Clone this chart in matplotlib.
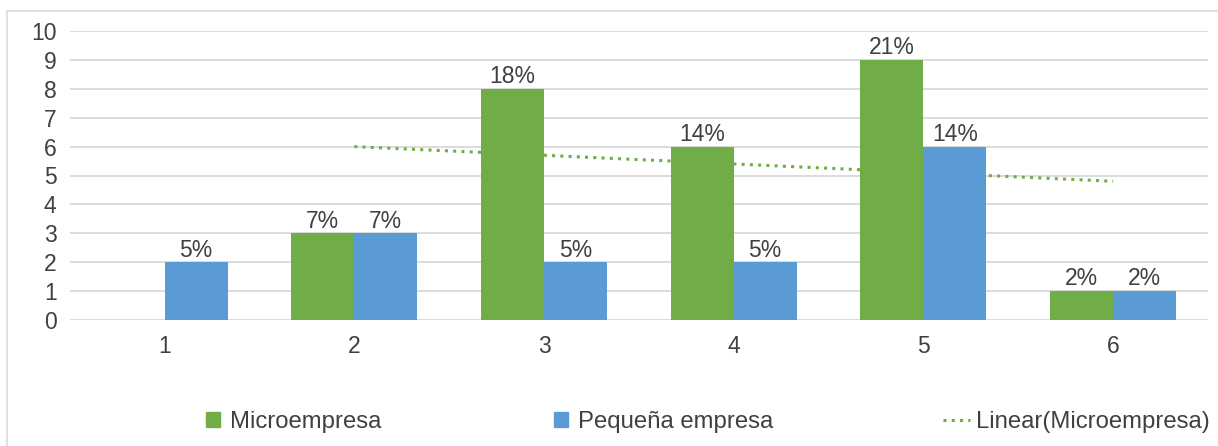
import numpy as np
import matplotlib
matplotlib.use("Agg")
import matplotlib.pyplot as plt
from matplotlib.patches import Patch, Rectangle
from matplotlib.lines import Line2D

categories = [1, 2, 3, 4, 5, 6]
micro = [np.nan, 3, 8, 6, 9, 1]
pequena = [2, 3, 2, 2, 6, 1]
micro_labels = ["", "7%", "18%", "14%", "21%", "2%"]
pequena_labels = ["5%", "7%", "5%", "5%", "14%", "2%"]
yticks = list(range(0, 11))

GREEN = "#70AD47"
BLUE = "#5B9BD5"
GRID = "#D9D9D9"
TEXT = "#404040"
FS = 16.5
LFS = 17.2

plt.rcParams["font.family"] = ["Liberation Sans", "DejaVu Sans"]

fig = plt.figure(figsize=(12.18, 4.46), dpi=100)
# outer chart border (top & left visible)
fig.patches.append(Rectangle((7 / 1218, -0.1), 1.2, 1 - 11 / 446 + 0.1,
                             transform=fig.transFigure, fill=False,
                             edgecolor="#D9D9D9", linewidth=1.2))

ax = fig.add_axes([69.7 / 1218, 1 - 320 / 446, (1208 - 69.7) / 1218, (320 - 31) / 446])

x = np.array(categories, dtype=float)
w = 0.332
b1 = ax.bar(x - w / 2, np.nan_to_num(micro), width=w, color=GREEN, zorder=2)
b2 = ax.bar(x + w / 2, pequena, width=w, color=BLUE, zorder=2)

ax.bar_label(b1, labels=micro_labels, padding=0.5, fontsize=FS, color=TEXT)
ax.bar_label(b2, labels=pequena_labels, padding=0.5, fontsize=FS, color=TEXT)

# linear trendline of Microempresa (fit on available points)
marr = np.array(micro, dtype=float)
m = ~np.isnan(marr)
coef = np.polyfit(x[m], marr[m], 1)
xt = np.array([x[m].min(), x[m].max()])
ax.plot(xt, np.polyval(coef, xt), color=GREEN, linewidth=2.2,
        linestyle=(0, (1, 1.7)), dash_capstyle="butt", zorder=1.5)

ax.set_xlim(0.5, 6.5)
ax.set_ylim(0, 10)
ax.set_yticks(yticks)
ax.set_xticks(categories)
ax.set_xticklabels([str(c) for c in categories])
ax.tick_params(axis="both", length=0, labelsize=FS, labelcolor=TEXT)
ax.tick_params(axis="y", pad=9.5)
ax.tick_params(axis="x", pad=11)
ax.grid(axis="y", color=GRID, linewidth=1.3, zorder=0)
ax.set_axisbelow(True)
for s in ax.spines.values():
    s.set_visible(False)

# legends
yl = 1 - 422 / 446
common = dict(frameon=False, fontsize=LFS, labelcolor=TEXT, handletextpad=0.4,
              borderaxespad=0, borderpad=0, loc="center left")
fig.legend([Patch(color=GREEN)], ["Microempresa"], handlelength=0.6, handleheight=0.6,
           bbox_to_anchor=(206 / 1218, yl), **common)
fig.legend([Patch(color=BLUE)], ["Pequeña empresa"], handlelength=0.6, handleheight=0.6,
           bbox_to_anchor=(554 / 1218, yl), **common)
fig.legend([Line2D([0], [0], color=GREEN, linewidth=2.2, linestyle=(0, (1, 1.7)),
                   dash_capstyle="butt")],
           ["Linear(Microempresa)"], handlelength=1.15,
           bbox_to_anchor=(943 / 1218, yl),
           **{**common, "handletextpad": 0.25})

fig.savefig("out.png", dpi=100)
